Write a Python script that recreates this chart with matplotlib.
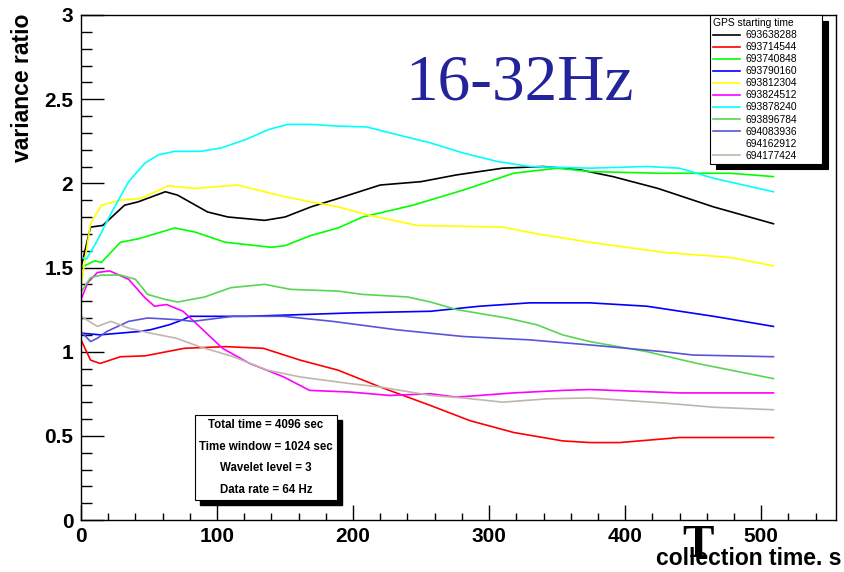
import matplotlib
matplotlib.use("Agg")
import matplotlib.pyplot as plt
from matplotlib.patches import Rectangle
from matplotlib.ticker import MultipleLocator

plt.rcParams['font.family'] = ['Liberation Sans', 'DejaVu Sans']

W, H = 845, 572

# ---- data ----
labels = ["693638288", "693714544", "693740848", "693790160", "693812304", "693824512",
          "693878240", "693896784", "694083936", "694162912", "694177424"]
colors = ["#000000", "#ff0000", "#00ff00", "#0000ff", "#ffff00", "#ff00ff",
          "#00ffff", "#59d454", "#5954d8", "#ffffff", "#c0b6ac"]

black_x = [0, 7, 16, 32, 42, 62, 71, 93, 108, 135, 150, 169, 189, 220, 250, 276, 310, 340, 367, 391, 424, 465, 509]
black_y = [1.50, 1.74, 1.75, 1.87, 1.89, 1.95, 1.93, 1.83, 1.80, 1.78, 1.80, 1.86, 1.91, 1.99, 2.01, 2.05, 2.09, 2.10, 2.08, 2.04, 1.97, 1.86, 1.76]

red_x = [0, 7, 14, 29, 47, 76, 106, 134, 161, 189, 220, 257, 286, 318, 354, 374, 396, 440, 509]
red_y = [1.07, 0.95, 0.93, 0.97, 0.975, 1.02, 1.03, 1.02, 0.95, 0.89, 0.79, 0.68, 0.59, 0.52, 0.47, 0.46, 0.46, 0.49, 0.49]

green_x = [0, 10, 15, 29, 42, 69, 84, 106, 140, 150, 169, 189, 207, 244, 281, 318, 350, 374, 424, 477, 509]
green_y = [1.50, 1.54, 1.53, 1.65, 1.67, 1.735, 1.71, 1.65, 1.62, 1.63, 1.69, 1.735, 1.80, 1.87, 1.96, 2.06, 2.09, 2.07, 2.06, 2.06, 2.04]

blue_x = [0, 14, 43, 51, 65, 75, 80, 100, 122, 161, 198, 257, 293, 330, 374, 416, 465, 509]
blue_y = [1.11, 1.10, 1.12, 1.13, 1.16, 1.19, 1.21, 1.21, 1.21, 1.22, 1.23, 1.24, 1.27, 1.29, 1.29, 1.27, 1.21, 1.15]

yellow_x = [0, 7, 15, 29, 44, 64, 84, 115, 135, 150, 169, 189, 212, 247, 310, 335, 374, 428, 477, 509]
yellow_y = [1.39, 1.76, 1.87, 1.90, 1.91, 1.985, 1.97, 1.99, 1.95, 1.92, 1.89, 1.86, 1.81, 1.75, 1.74, 1.70, 1.65, 1.59, 1.56, 1.51]

magenta_x = [0, 5, 12, 21, 35, 47, 54, 63, 75, 87, 104, 124, 149, 168, 198, 227, 257, 276, 318, 354, 374, 440, 509]
magenta_y = [1.31, 1.41, 1.47, 1.48, 1.43, 1.32, 1.27, 1.28, 1.24, 1.15, 1.02, 0.93, 0.85, 0.77, 0.76, 0.74, 0.75, 0.73, 0.755, 0.77, 0.775, 0.755, 0.755]

cyan_x = [0, 4, 12, 22, 35, 47, 57, 69, 88, 103, 121, 138, 152, 169, 189, 210, 232, 257, 281, 306, 330, 374, 416, 440, 465, 509]
cyan_y = [1.56, 1.55, 1.66, 1.82, 2.01, 2.12, 2.17, 2.19, 2.19, 2.21, 2.26, 2.32, 2.35, 2.35, 2.34, 2.335, 2.29, 2.24, 2.18, 2.13, 2.10, 2.09, 2.10, 2.09, 2.03, 1.95]

green2_x = [0, 7, 15, 29, 40, 49, 62, 71, 91, 110, 135, 154, 189, 207, 240, 257, 276, 313, 335, 354, 374, 416, 453, 509]
green2_y = [1.355, 1.44, 1.455, 1.455, 1.43, 1.34, 1.31, 1.295, 1.325, 1.38, 1.40, 1.37, 1.36, 1.34, 1.325, 1.295, 1.25, 1.20, 1.16, 1.10, 1.06, 1.00, 0.93, 0.84]

slate_x = [0, 7, 12, 19, 35, 49, 71, 82, 112, 149, 185, 232, 281, 330, 374, 428, 450, 509]
slate_y = [1.12, 1.06, 1.08, 1.12, 1.18, 1.20, 1.19, 1.18, 1.21, 1.21, 1.18, 1.13, 1.09, 1.07, 1.04, 1.00, 0.98, 0.97]

white_x = []
white_y = []

tan_x = [0, 12, 22, 35, 51, 70, 87, 112, 137, 161, 198, 220, 257, 281, 310, 343, 374, 428, 465, 509]
tan_y = [1.21, 1.15, 1.18, 1.14, 1.11, 1.08, 1.03, 0.97, 0.89, 0.85, 0.81, 0.79, 0.74, 0.725, 0.70, 0.72, 0.725, 0.695, 0.67, 0.655]

series_x = [black_x, red_x, green_x, blue_x, yellow_x, magenta_x, cyan_x, green2_x, slate_x, white_x, tan_x]
series_y = [black_y, red_y, green_y, blue_y, yellow_y, magenta_y, cyan_y, green2_y, slate_y, white_y, tan_y]

info_lines = ["Total time = 4096 sec", "Time window = 1024 sec", "Wavelet level = 3", "Data rate = 64 Hz"]

# ---- figure ----
fig = plt.figure(figsize=(W / 100, H / 100), dpi=100)
fig.patch.set_facecolor("white")


def fx(px):
    return px / W


def fy(py):
    return 1 - py / H


ax = fig.add_axes([fx(81), fy(520), fx(836) - fx(81), fy(15) - fy(520)])

for xs, ys, c, lab in zip(series_x, series_y, colors, labels):
    ax.plot(xs, ys, color=c, lw=1.2, label=lab)

ax.set_xlim(0, 555)
ax.set_ylim(0, 3)
ax.xaxis.set_major_locator(MultipleLocator(100))
ax.xaxis.set_minor_locator(MultipleLocator(20))
ax.yaxis.set_major_locator(MultipleLocator(0.5))
ax.yaxis.set_minor_locator(MultipleLocator(0.1))
ax.set_yticks([0, 0.5, 1, 1.5, 2, 2.5, 3])
ax.set_yticklabels(["0", "0.5", "1", "1.5", "2", "2.5", "3"])
ax.tick_params(axis='y', which='major', direction='in', length=16.5, width=1, pad=5.5,
               labelsize=15, right=False)
ax.tick_params(axis='y', which='minor', direction='in', length=8, width=1, right=False)
ax.tick_params(axis='x', which='major', direction='in', length=10.8, width=1, pad=5,
               labelsize=15, top=False)
ax.tick_params(axis='x', which='minor', direction='in', length=5.4, width=1, top=False)
for lab in ax.get_xticklabels() + ax.get_yticklabels():
    lab.set_fontweight('bold')
for s in ax.spines.values():
    s.set_linewidth(1)
    s.set_color('black')

leg = ax.legend(loc='upper left',
                bbox_to_anchor=(fx(710), fy(162), fx(822) - fx(710), fy(15) - fy(162)),
                bbox_transform=fig.transFigure, mode='expand',
                borderaxespad=0, fontsize=7.4, title='GPS starting time', title_fontsize=7.4,
                handlelength=2.6, handletextpad=0.6, labelspacing=0.2, borderpad=0.3,
                fancybox=False, framealpha=1, edgecolor='black',
                shadow={'ox': 4, 'oy': -4, 'color': 'black', 'alpha': 1})
leg.get_frame().set_linewidth(0.8)
leg._legend_box.align = "left"

# info box
bx0, by0, bx1, by1 = 195, 415, 337, 500
fig.patches.append(Rectangle((fx(bx0 + 5), fy(by1 + 5)), fx(bx1) - fx(bx0), fy(by0) - fy(by1),
                             transform=fig.transFigure, facecolor='black', edgecolor='black', zorder=5))
fig.patches.append(Rectangle((fx(bx0), fy(by1)), fx(bx1) - fx(bx0), fy(by0) - fy(by1),
                             transform=fig.transFigure, facecolor='white', edgecolor='black',
                             lw=0.8, zorder=6))
for i, t in enumerate(info_lines):
    fig.text(fx(266), fy(425 + i * 21.7), t, ha='center', va='center', fontsize=8.3,
             fontweight='bold', zorder=7)

# title and axis labels
fig.text(fx(519), fy(99), "16-32Hz", family=['Liberation Serif', 'DejaVu Serif'], fontsize=47,
         color='#23239c', ha='center', va='baseline')
fig.text(fx(23), fy(14), "variance ratio", rotation=90, ha='center', va='top',
         fontsize=16.5, fontweight='bold')
fig.text(fx(842), fy(565), "collection time. s", ha='right', va='baseline',
         fontsize=16.5, fontweight='bold')
fig.text(fx(698), fy(557), "T", family=['Liberation Serif', 'DejaVu Serif'], fontweight='bold',
         fontsize=34, ha='center', va='baseline')

fig.savefig("out.png", dpi=100)
